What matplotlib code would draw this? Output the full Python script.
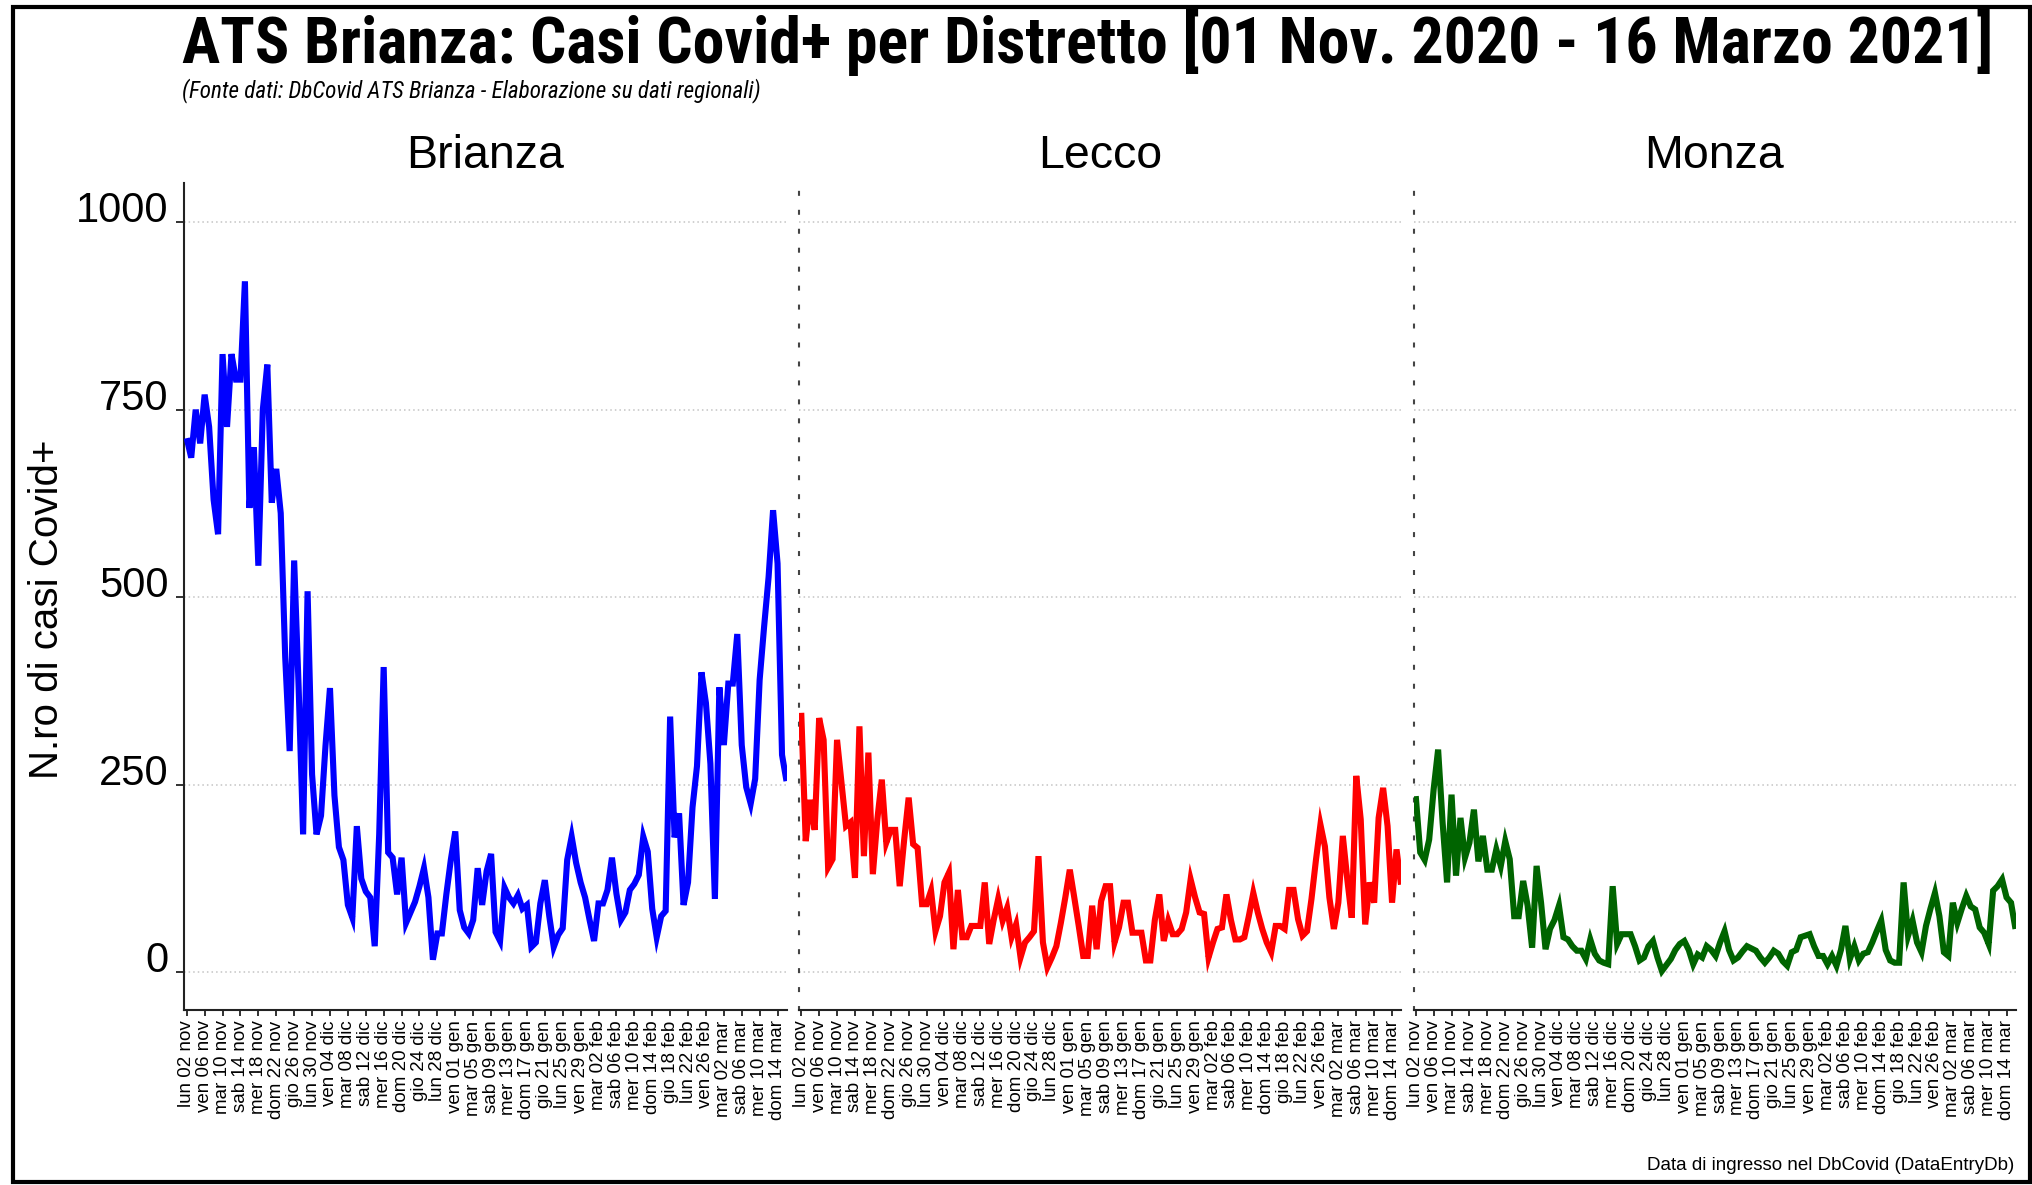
import matplotlib
matplotlib.use("Agg")
import matplotlib.pyplot as plt
from matplotlib import font_manager as fm
from matplotlib.patches import Rectangle

# ---------------- data (daily, lun 02 nov 2020 -> mar 16 mar 2021) ----------------
districts = ["Brianza", "Lecco", "Monza"]
line_colors = ["#0000FF", "#FF0000", "#006400"]

brianza = [712, 686, 750, 705, 770, 727, 630, 584, 824, 727,
           824, 790, 790, 921, 619, 700, 542, 750, 810, 626,
           671, 612, 420, 295, 549, 380, 184, 508, 264, 184,
           209, 302, 379, 236, 167, 150, 90, 73, 195, 125,
           108, 100, 35, 184, 407, 160, 153, 104, 153, 66,
           80, 94, 115, 139, 100, 17, 52, 52, 104, 150,
           188, 83, 60, 52, 70, 139, 90, 135, 158, 54,
           42, 113, 100, 92, 103, 85, 90, 34, 40, 92,
           123, 75, 34, 50, 59, 150, 181, 146, 120, 100,
           70, 42, 92, 92, 110, 153, 105, 70, 80, 110,
           118, 130, 181, 161, 85, 47, 75, 82, 341, 180,
           212, 90, 120, 220, 275, 400, 359, 278, 98, 380,
           303, 385, 385, 451, 303, 247, 225, 258, 390, 461,
           527, 616, 545, 290, 255]

lecco = [346, 175, 230, 190, 339, 310, 140, 151, 310, 253,
         195, 200, 126, 328, 155, 293, 131, 204, 257, 173,
         190, 190, 115, 177, 233, 171, 166, 91, 91, 109,
         55, 75, 120, 133, 31, 110, 47, 47, 62, 62,
         62, 120, 38, 70, 98, 69, 86, 47, 64, 20,
         40, 47, 55, 155, 40, 7, 20, 35, 66, 100,
         137, 100, 62, 22, 22, 89, 31, 95, 115, 115,
         40, 60, 93, 93, 53, 53, 53, 16, 16, 70,
         104, 42, 69, 51, 51, 58, 80, 124, 100, 80,
         78, 20, 40, 58, 60, 104, 70, 44, 44, 47,
         75, 106, 80, 58, 40, 27, 62, 62, 58, 110,
         110, 71, 49, 55, 98, 150, 197, 168, 100, 58,
         93, 182, 124, 73, 262, 204, 64, 120, 93, 206,
         246, 195, 93, 164, 117]

monza = [235, 160, 150, 177, 244, 297, 200, 120, 237, 129,
         206, 153, 173, 217, 148, 182, 137, 137, 164, 142,
         175, 151, 75, 75, 122, 89, 33, 142, 93, 31,
         58, 70, 89, 47, 44, 35, 29, 29, 18, 44,
         25, 16, 13, 11, 115, 38, 51, 51, 51, 35,
         16, 20, 35, 42, 20, 2, 10, 18, 30, 38,
         42, 30, 11, 24, 20, 35, 30, 22, 40, 55,
         30, 16, 20, 28, 35, 32, 29, 20, 13, 20,
         29, 25, 15, 9, 27, 30, 47, 49, 51, 35,
         22, 22, 11, 22, 9, 30, 62, 18, 35, 16,
         25, 27, 40, 55, 69, 30, 16, 13, 13, 120,
         49, 69, 40, 27, 62, 85, 106, 75, 27, 22,
         93, 66, 85, 102, 88, 84, 60, 53, 38, 109,
         115, 124, 100, 93, 58]

series = [brianza, lecco, monza]

tick_labels = ["lun 02 nov", "ven 06 nov", "mar 10 nov", "sab 14 nov", "mer 18 nov",
               "dom 22 nov", "gio 26 nov", "lun 30 nov", "ven 04 dic", "mar 08 dic",
               "sab 12 dic", "mer 16 dic", "dom 20 dic", "gio 24 dic", "lun 28 dic",
               "ven 01 gen", "mar 05 gen", "sab 09 gen", "mer 13 gen", "dom 17 gen",
               "gio 21 gen", "lun 25 gen", "ven 29 gen", "mar 02 feb", "sab 06 feb",
               "mer 10 feb", "dom 14 feb", "gio 18 feb", "lun 22 feb", "ven 26 feb",
               "mar 02 mar", "sab 06 mar", "mer 10 mar", "dom 14 mar"]
tick_step = 4
y_ticks = [0, 250, 500, 750, 1000]

title = "ATS Brianza: Casi Covid+ per Distretto [01 Nov. 2020 - 16 Marzo 2021]"
subtitle = "(Fonte dati: DbCovid ATS Brianza - Elaborazione su dati regionali)"
ylabel = "N.ro di casi Covid+"
xnote = "Data di ingresso nel DbCovid (DataEntryDb)"

# ---------------- fonts ----------------
flist = fm.fontManager.ttflist
avail = {f.name for f in flist}
base = "Liberation Sans" if "Liberation Sans" in avail else "DejaVu Sans"
narrow_kw = dict(family=base)
for cand in ["Liberation Sans Narrow", "Arial Narrow", "Roboto Condensed",
             "Open Sans Condensed", "Noto Sans Condensed"]:
    if cand in avail:
        narrow_kw = dict(family=cand)
        break
else:
    for f in flist:
        if f.name in ("DejaVu Sans", "Noto Sans", "Open Sans", "Roboto") and \
                str(f.stretch) in ("condensed", "semi-condensed", "extra-condensed"):
            narrow_kw = dict(family=f.name, fontstretch=f.stretch)
            break
plt.rcParams["font.family"] = [base, "DejaVu Sans"]

W, H = 2033, 1185
fig = plt.figure(figsize=(W / 100, H / 100), dpi=100)
fig.patch.set_facecolor("white")

ax_bottom = 1 - 1010 / H
ax_top = 1 - 183 / H
lefts_px = [184.5, 799.0, 1413.5]
width_px = 602.0

grid_kw = dict(color="#c4c4c4", linestyle=(0, (1, 2)), linewidth=1.1)
spine_dot = (0, (1.4, 7.7))

axes = []
for i, (name, vals, col) in enumerate(zip(districts, series, line_colors)):
    ax = fig.add_axes([lefts_px[i] / W, ax_bottom, width_px / W, ax_top - ax_bottom])
    x = list(range(len(vals)))
    ax.plot(x, vals, color=col, linewidth=4.4, solid_joinstyle="miter",
            solid_capstyle="butt", zorder=3)
    ax.set_xlim(-0.5, len(vals) - 1)
    ax.set_ylim(-50, 1052)
    ax.set_yticks(y_ticks)
    ax.yaxis.grid(True, **grid_kw)
    ax.set_axisbelow(True)
    ax.set_xticks(list(range(0, tick_step * len(tick_labels), tick_step)))
    ax.set_xticklabels(tick_labels, rotation=90, fontsize=13.5, family=base)
    ax.tick_params(axis="x", direction="out", length=4.5, width=1.3, color="#222222", pad=3)
    for s in ["top", "right"]:
        ax.spines[s].set_visible(False)
    ax.spines["bottom"].set_color("#222222")
    ax.spines["bottom"].set_linewidth(1.5)
    if i == 0:
        ax.spines["left"].set_color("#222222")
        ax.spines["left"].set_linewidth(1.5)
        ax.set_yticklabels([str(v) for v in y_ticks], fontsize=30, family=base)
        ax.tick_params(axis="y", direction="out", length=6, width=1.3, color="#222222", pad=5.5)
        for t in ax.get_yticklabels():
            t.set_verticalalignment("baseline")
    else:
        ax.spines["left"].set_color("#444444")
        ax.spines["left"].set_linewidth(1.5)
        ax.spines["left"].set_linestyle(spine_dot)
        ax.tick_params(axis="y", length=0, labelleft=False)
    ax.set_facecolor("none")
    axes.append(ax)
    cx = (lefts_px[i] + width_px / 2) / W
    fig.text(cx, 1 - 168 / H, name, ha="center", va="baseline", fontsize=33.5, family=base)

# titles (sized to the reference widths)
t_title = fig.text(182 / W, 1 - 63 / H, title, ha="left", va="baseline",
                   fontsize=43, fontweight="bold", **narrow_kw)
t_sub = fig.text(182 / W, 1 - 97 / H, subtitle, ha="left", va="baseline",
                 fontsize=12, fontstyle="italic", **narrow_kw)
fig.canvas.draw()
r = fig.canvas.get_renderer()
for t, target in [(t_title, 1813.0), (t_sub, 577.0)]:
    w = t.get_window_extent(renderer=r).width
    t.set_fontsize(t.get_fontsize() * target / w)

fig.text(47 / W, 1 - 609 / H, ylabel, rotation=90, ha="center", va="center",
         fontsize=29, family=base)
fig.text(2014 / W, 1 - 1170 / H, xnote, ha="right", va="baseline", fontsize=13.5, family=base)

# outer frame
fig.patches.append(Rectangle((13 / W, 1 - 1182 / H), (2030 - 13) / W, (1182 - 7) / H,
                             transform=fig.transFigure, fill=False, edgecolor="black",
                             linewidth=3.0, zorder=10))

fig.savefig("out.png", dpi=100, facecolor="white")
